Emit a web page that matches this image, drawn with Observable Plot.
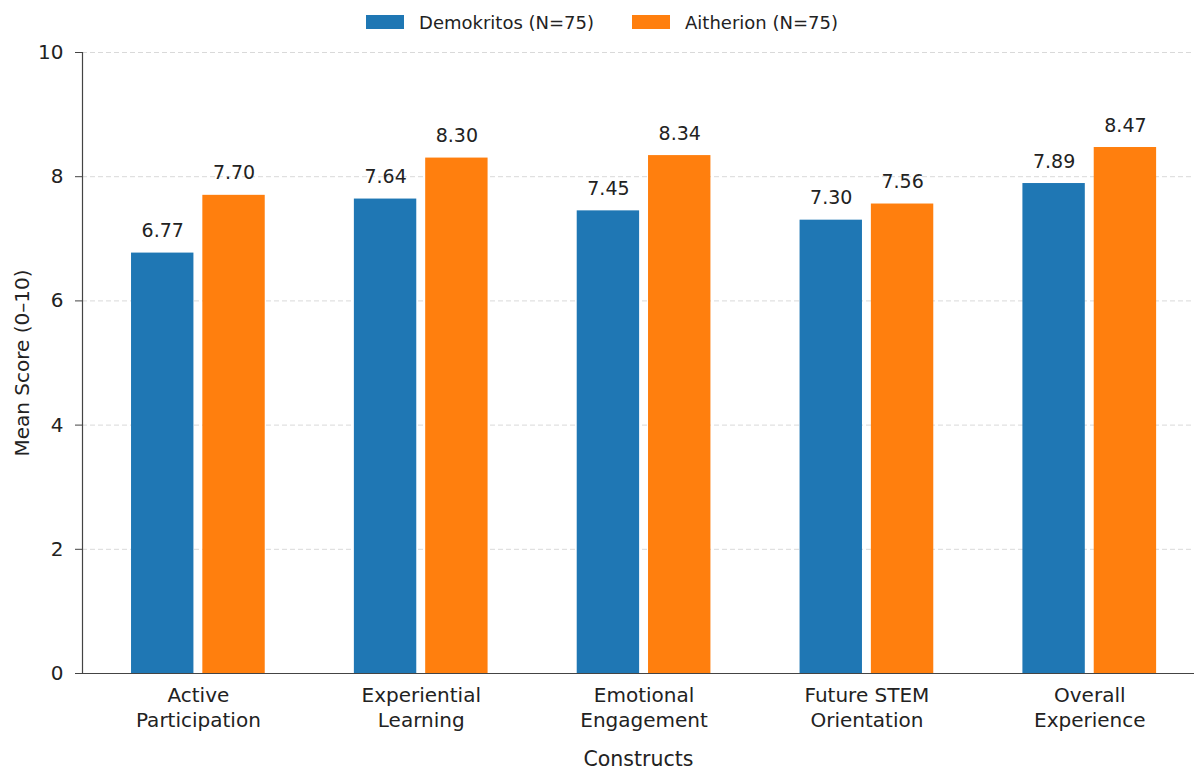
<!DOCTYPE html>
<html><head><meta charset="utf-8">
<script src="https://cdn.jsdelivr.net/npm/d3@7"></script>
<script src="https://cdn.jsdelivr.net/npm/@observablehq/plot@0.6"></script>
<style>
body{margin:0;background:#fff;font-family:"DejaVu Sans",sans-serif;}
#legend{height:40px;display:flex;justify-content:center;align-items:center;font-size:18px;color:#222;padding-left:10px;padding-top:4px;box-sizing:border-box}
.item{display:flex;align-items:center;margin:0 19px}
.sw{width:38px;height:14px;margin-right:15px}
</style></head><body>
<div id="legend"></div><div id="chart"></div>
<script>
const constructs = ["Active\nParticipation", "Experiential\nLearning", "Emotional\nEngagement", "Future STEM\nOrientation", "Overall\nExperience"];
const demokritos = [6.77, 7.64, 7.45, 7.30, 7.89];
const aitherion = [7.70, 8.30, 8.34, 7.56, 8.47];
const seriesNames = ["Demokritos (N=75)", "Aitherion (N=75)"];
const seriesColors = ["#1f77b4", "#ff7f0e"];
const yTicks = [0, 2, 4, 6, 8, 10];

const offsets = [[-0.30, -0.02], [0.02, 0.30]];
const rows = [];
[demokritos, aitherion].forEach((vals, s) => {
  vals.forEach((v, i) => rows.push({i, series: seriesNames[s], value: v, x1: i + offsets[s][0], x2: i + offsets[s][1]}));
});

const legend = document.getElementById("legend");
seriesNames.forEach((n, s) => {
  const it = document.createElement("div"); it.className = "item";
  const sw = document.createElement("div"); sw.className = "sw"; sw.style.background = seriesColors[s];
  const tx = document.createElement("span"); tx.textContent = n;
  it.append(sw, tx); legend.append(it);
});

const chart = Plot.plot({
  width: 1194, height: 731,
  marginLeft: 82, marginRight: 0, marginTop: 12, marginBottom: 98,
  style: {fontFamily: "DejaVu Sans", color: "#222", background: "#fff"},
  x: {domain: [-0.52, 4.47], axis: null},
  y: {domain: [0, 10], axis: null},
  color: {domain: seriesNames, range: seriesColors},
  marks: [
    Plot.ruleY(yTicks.filter(d => d > 0), {stroke: "#d9d9d9", strokeDasharray: "5,3", strokeWidth: 1}),
    Plot.rectY(rows, {x1: "x1", x2: "x2", y: "value", fill: "series"}),
    Plot.text(rows, {x: d => (d.x1 + d.x2) / 2, y: "value", text: d => d.value.toFixed(2), dy: -22, fontSize: 19, fill: "#222"}),
    Plot.ruleX([-0.52], {y1: 0, y2: 10, stroke: "#444", strokeWidth: 1.2}),
    Plot.ruleY([0], {stroke: "#444", strokeWidth: 1.2}),
    Plot.axisY({ticks: yTicks, tickSize: 7, tickPadding: 12, fontSize: 20, label: null, stroke: "#444"}),
    Plot.axisX({ticks: [0, 1, 2, 3, 4], tickFormat: i => constructs[i], tickSize: 0, tickPadding: 11, fontSize: 20, lineHeight: 1.25, label: null}),
    Plot.text(["Constructs"], {frameAnchor: "bottom", lineAnchor: "middle", textAnchor: "middle", dy: 86, fontSize: 20.5, fill: "#222"}),
    Plot.text(["Mean Score (0–10)"], {frameAnchor: "left", lineAnchor: "middle", textAnchor: "middle", dx: -60, rotate: -90, fontSize: 20, fill: "#222"})
  ]
});
document.getElementById("chart").append(chart);
</script>
</body></html>
